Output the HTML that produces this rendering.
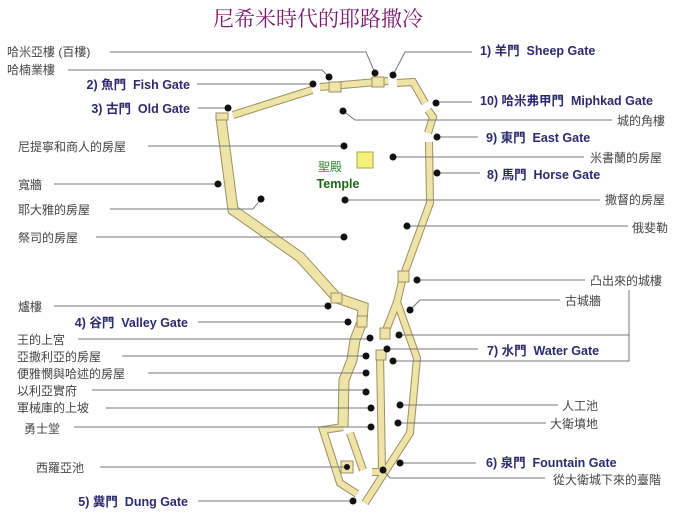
<!DOCTYPE html>
<html><head><meta charset="utf-8"><style>
html,body{margin:0;padding:0;background:#fff;}
svg{display:block;}
.l{font-family:"Liberation Sans","Noto Sans CJK TC",sans-serif;font-size:12px;fill:#444;}
.g{font-family:"Liberation Sans","Noto Sans CJK TC",sans-serif;font-size:12.5px;font-weight:bold;fill:#2b2b6e;}
.ln{stroke:#777;stroke-width:1;fill:none;}
.wo{fill:none;stroke:#9c9060;stroke-width:11;stroke-linejoin:miter;}
.wi{fill:none;stroke:#efe4a8;stroke-width:9;stroke-linejoin:miter;}
.wo2{fill:none;stroke:#9c9060;stroke-width:8;}
.wi2{fill:none;stroke:#efe4a8;stroke-width:6;}
</style></head><body>
<svg width="688" height="530" viewBox="0 0 688 530">
<text x="318" y="26" text-anchor="middle" font-family="'Liberation Serif','Noto Serif CJK SC',serif" font-size="21" fill="#7a1a70">尼希米時代的耶路撒冷</text>

<g>
<polyline class="wo2" points="233,115 312,90"/><polyline class="wi2" points="233,115 312,90"/>
<polyline class="wo2" points="320,87 388,81"/><polyline class="wi2" points="320,87 388,81"/>
<polyline class="wo2" points="397,83 413,82 425,103"/><polyline class="wi2" points="397,83 413,82 425,103"/>
<polyline class="wo2" points="428,110 433,117 428,133"/><polyline class="wi2" points="428,110 433,117 428,133"/>
<polyline class="wo2" points="429,142 430,203 403,277 397,302 385,333"/>
<polyline class="wo2" points="397,302 417,358 410,433 365,503"/>
<polyline class="wo2" points="380,353 382,470"/><polyline class="wo2" points="372,472 383,472"/>
<polyline class="wi2" points="429,142 430,203 403,277 397,302 385,333"/>
<polyline class="wi2" points="397,302 417,358 410,433 365,503"/>
<polyline class="wi2" points="380,353 382,470"/><polyline class="wi2" points="372,472 383,472"/>
<polyline class="wo" points="221,118 233,210 300,257 337,298 363,307 362,322 355,340 352,360 344,380 343,427"/>
<polyline class="wo2" points="343,427 323,430 340,483 357,494"/>
<polyline class="wo2" points="350,433 363,470"/>
<polyline class="wi" points="221,118 233,210 300,257 337,298 363,307 362,322 355,340 352,360 344,380 343,427"/>
<polyline class="wi2" points="343,427 323,430 340,483 357,494"/>
<polyline class="wi2" points="350,433 363,470"/>
<rect x="216" y="113" width="12" height="7" fill="#efe4a8" stroke="#9c9060"/>
<g fill="#efe4a8" stroke="#9c9060">
<rect x="329" y="82" width="12" height="10"/><rect x="372" y="77" width="12" height="10"/>
<rect x="398" y="271" width="11" height="11"/><rect x="331" y="293" width="11" height="10"/>
<rect x="357" y="316" width="10" height="11"/><rect x="380" y="328" width="10" height="11"/>
<rect x="376" y="350" width="10" height="10"/><rect x="341" y="461" width="12" height="12"/>
</g>
<rect x="357" y="152" width="16" height="16" fill="#f5f07a" stroke="#b0a050"/>
</g>
<text x="330" y="171" text-anchor="middle" font-family="'Liberation Sans','Noto Sans CJK TC',sans-serif" font-size="12" fill="#2a8a2a">聖殿</text>
<text x="338" y="188" text-anchor="middle" font-family="'Liberation Sans',sans-serif" font-size="12.5" font-weight="bold" fill="#1a6a1a">Temple</text>

<g class="ln">
<polyline points="110,52 366,52 375,73"/>
<polyline points="68,70 322,70 329,77"/>
<polyline points="197,84 313,84"/>
<polyline points="198,108 228,108"/>
<polyline points="148,146 344,146"/>
<polyline points="54,184 218,184"/>
<polyline points="110,209 253,209 261,199"/>
<polyline points="96,237 344,237"/>
<polyline points="54,306 320,306 328,306"/>
<polyline points="198,322 348,322"/>
<polyline points="78,339 370,339"/>
<polyline points="122,356 366,356"/>
<polyline points="148,373 366,373"/>
<polyline points="92,390 366,390"/>
<polyline points="106,408 371,408"/>
<polyline points="74,427 371,427"/>
<polyline points="100,467 347,467"/>
<polyline points="198,501 353,501"/>
<polyline points="393,75 405,52 472,52"/>
<polyline points="436,102 472,102"/>
<polyline points="343,111 355,120 612,120"/>
<polyline points="437,137 478,137"/>
<polyline points="393,157 584,157"/>
<polyline points="437,173 480,173"/>
<polyline points="345,200 600,200"/>
<polyline points="407,226 628,226"/>
<polyline points="417,280 585,280"/>
<polyline points="410,310 420,300 560,300"/>
<polyline points="399,335 629,335"/>
<polyline points="387,349 478,349"/>
<polyline points="393,361 629,361 629,290"/>
<polyline points="400,405 558,405"/>
<polyline points="398,423 546,423"/>
<polyline points="400,463 476,463"/>
<polyline points="383,470 390,478 545,478"/>
</g>
<g fill="#111">
<circle cx="375" cy="73" r="3.5"/><circle cx="393" cy="75" r="3.5"/><circle cx="329" cy="77" r="3.5"/><circle cx="313" cy="84" r="3.5"/>
<circle cx="228" cy="108" r="3.5"/><circle cx="344" cy="146" r="3.5"/><circle cx="218" cy="184" r="3.5"/><circle cx="261" cy="199" r="3.5"/>
<circle cx="344" cy="237" r="3.5"/><circle cx="328" cy="306" r="3.5"/><circle cx="348" cy="322" r="3.5"/><circle cx="370" cy="338" r="3.5"/>
<circle cx="366" cy="356" r="3.5"/><circle cx="366" cy="373" r="3.5"/><circle cx="366" cy="392" r="3.5"/><circle cx="371" cy="408" r="3.5"/>
<circle cx="371" cy="427" r="3.5"/><circle cx="347" cy="467" r="3"/><circle cx="353" cy="501" r="3.5"/>
<circle cx="436" cy="103" r="3.5"/><circle cx="343" cy="111" r="3.5"/><circle cx="437" cy="137" r="3.5"/><circle cx="393" cy="157" r="3.5"/>
<circle cx="437" cy="173" r="3.5"/><circle cx="345" cy="200" r="3.5"/><circle cx="407" cy="226" r="3.5"/><circle cx="417" cy="280" r="3.5"/>
<circle cx="410" cy="310" r="3.5"/><circle cx="399" cy="335" r="3.5"/><circle cx="387" cy="349" r="3.5"/><circle cx="393" cy="361" r="3.5"/>
<circle cx="400" cy="405" r="3.5"/><circle cx="398" cy="423" r="3.5"/><circle cx="400" cy="463" r="3.5"/><circle cx="383" cy="470" r="3.5"/>
</g>

<text class="l" x="7" y="56">哈米亞樓 (百樓)</text>
<text class="l" x="7" y="74">哈楠業樓</text>
<text class="g" x="190" y="89" text-anchor="end">2) 魚門 &#160;Fish Gate</text>
<text class="g" x="190" y="113" text-anchor="end">3) 古門 &#160;Old Gate</text>
<text class="l" x="18" y="151">尼提寧和商人的房屋</text>
<text class="l" x="18" y="189">寬牆</text>
<text class="l" x="18" y="214">耶大雅的房屋</text>
<text class="l" x="18" y="242">祭司的房屋</text>
<text class="l" x="18" y="311">爐樓</text>
<text class="g" x="188" y="327" text-anchor="end">4) 谷門 &#160;Valley Gate</text>
<text class="l" x="17" y="344">王的上宮</text>
<text class="l" x="17" y="361">亞撒利亞的房屋</text>
<text class="l" x="17" y="378">便雅憫與哈述的房屋</text>
<text class="l" x="17" y="395">以利亞實府</text>
<text class="l" x="17" y="412">軍械庫的上坡</text>
<text class="l" x="24" y="433">勇士堂</text>
<text class="l" x="36" y="472">西羅亞池</text>
<text class="g" x="188" y="506" text-anchor="end">5) 糞門 &#160;Dung Gate</text>

<text class="g" x="480" y="55">1) 羊門 &#160;Sheep Gate</text>
<text class="g" x="480" y="105">10) 哈米弗甲門 &#160;Miphkad Gate</text>
<text class="l" x="617" y="125">城的角樓</text>
<text class="g" x="486" y="142">9) 東門 &#160;East Gate</text>
<text class="l" x="590" y="162">米書蘭的房屋</text>
<text class="g" x="487" y="179">8) 馬門 &#160;Horse Gate</text>
<text class="l" x="605" y="204">撒督的房屋</text>
<text class="l" x="632" y="232">俄斐勒</text>
<text class="l" x="590" y="285">凸出來的城樓</text>
<text class="l" x="565" y="305">古城牆</text>
<text class="g" x="487" y="355">7) 水門 &#160;Water Gate</text>
<text class="l" x="562" y="410">人工池</text>
<text class="l" x="550" y="428">大衛墳地</text>
<text class="g" x="486" y="467">6) 泉門 &#160;Fountain Gate</text>
<text class="l" x="553" y="484">從大衛城下來的臺階</text>
</svg>
</body></html>
